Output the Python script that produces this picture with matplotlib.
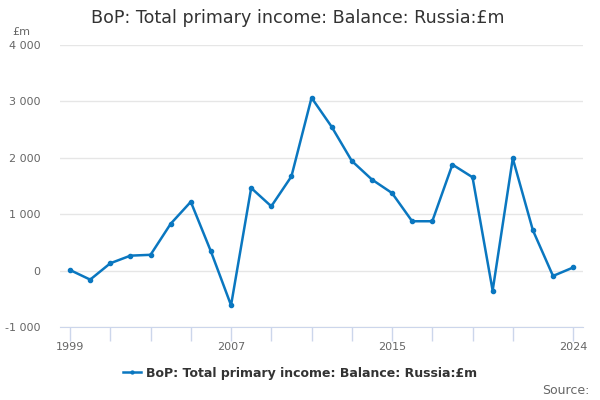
import matplotlib.pyplot as plt
from matplotlib.ticker import FuncFormatter

years = list(range(1999, 2025))
values = [10, -160, 130, 265, 280, 830, 1220, 340, -615, 1465, 1140, 1670,
          3065, 2550, 1945, 1615, 1375, 875, 875, 1880, 1655, -355, 1990,
          715, -95, 55]
tick_years = [1999, 2001, 2003, 2005, 2007, 2009, 2011, 2013, 2015, 2017,
              2019, 2021, 2024]
label_years = [1999, 2007, 2015, 2024]

line_color = '#0a77c0'
axis_color = '#ccd6eb'
grid_color = '#e6e6e6'
text_color = '#666666'

plt.rcParams['font.family'] = 'DejaVu Sans'

fig = plt.figure(figsize=(6, 4), dpi=100)
ax = fig.add_axes([0.1, 0.1825, 0.872, 0.705])

ax.plot(years, values, color=line_color, lw=1.8, marker='o', ms=3,
        label='BoP: Total primary income: Balance: Russia:£m')

ax.set_ylim(-1000, 4000)
ax.set_xlim(1999 - 0.5, 2024 + 0.5)
ax.set_yticks([-1000, 0, 1000, 2000, 3000, 4000])
ax.yaxis.set_major_formatter(FuncFormatter(lambda v, p: f'{int(v):,}'.replace(',', ' ')))
ax.grid(axis='y', color=grid_color, lw=1)
ax.set_axisbelow(True)

ax.set_xticks(tick_years)
ax.set_xticklabels([str(y) if y in label_years else '' for y in tick_years])

for s in ['top', 'right', 'left']:
    ax.spines[s].set_visible(False)
ax.spines['bottom'].set_color(axis_color)
ax.tick_params(axis='x', colors=axis_color, length=10, width=1, labelcolor=text_color, labelsize=8, pad=1)
ax.tick_params(axis='y', length=0, labelcolor=text_color, labelsize=8, pad=14)

fig.text(0.497, 0.955, 'BoP: Total primary income: Balance: Russia:£m',
         ha='center', va='center', fontsize=12.6, color='#333333')
fig.text(0.02, 0.92, '£m', fontsize=8, color=text_color, va='center')

leg = fig.legend(loc='center', bbox_to_anchor=(0.5, 0.067), frameon=False,
                 fontsize=9, handlelength=1.5, handletextpad=0.4, markerscale=0.7)
for t in leg.get_texts():
    t.set_color('#333333')
    t.set_fontweight('bold')

fig.text(0.982, 0.025, 'Source:', ha='right', va='center', fontsize=9, color=text_color)

fig.savefig('out.png', dpi=100)
